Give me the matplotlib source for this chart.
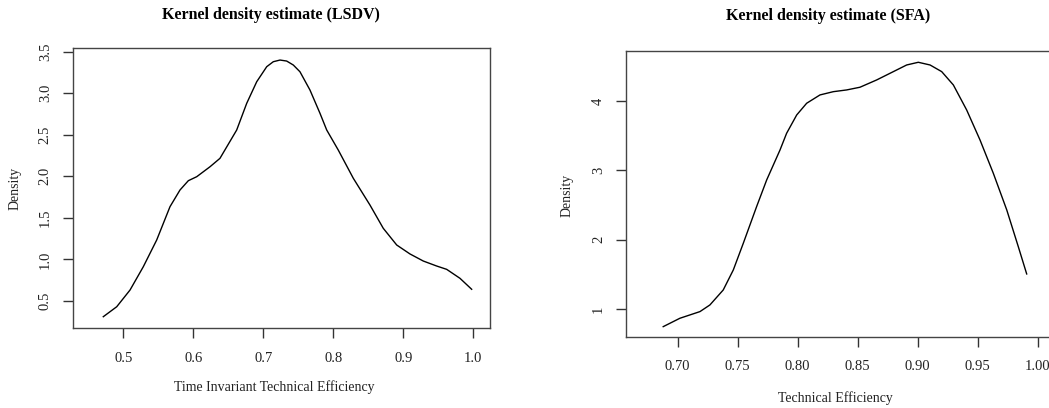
'''Kernel density estimates of technical efficiency (LSDV vs SFA)'''
import numpy as np
import matplotlib.pyplot as plt

plt.rcParams['font.family'] = ['Liberation Serif', 'DejaVu Serif']

# LSDV density curve
lsdv_x = [0.4714, 0.4906, 0.5096, 0.5286, 0.5477, 0.5667, 0.5810, 0.5929, 0.6049,
          0.6239, 0.6381, 0.6620, 0.6763, 0.6906, 0.7049, 0.7143, 0.7239, 0.7334,
          0.7429, 0.7524, 0.7667, 0.7810, 0.7906, 0.8071, 0.8286, 0.8524, 0.8714,
          0.8906, 0.9096, 0.9286, 0.9477, 0.9620, 0.9810, 0.9977]
lsdv_y = [0.311, 0.431, 0.632, 0.913, 1.234, 1.635, 1.836, 1.948, 1.996,
          2.116, 2.217, 2.558, 2.879, 3.139, 3.320, 3.380, 3.400, 3.388,
          3.340, 3.259, 3.039, 2.759, 2.558, 2.317, 1.977, 1.655, 1.375,
          1.174, 1.066, 0.981, 0.921, 0.881, 0.773, 0.641]

# SFA density curve
sfa_x = [0.6880, 0.7019, 0.7186, 0.7269, 0.7380, 0.7464, 0.7547, 0.7658, 0.7742,
         0.7853, 0.7908, 0.7992, 0.8075, 0.8186, 0.8297, 0.8408, 0.8519, 0.8658,
         0.8797, 0.8908, 0.9005, 0.9103, 0.9200, 0.9297, 0.9408, 0.9519, 0.9630,
         0.9742, 0.9838, 0.9908]
sfa_y = [0.745, 0.866, 0.962, 1.058, 1.274, 1.563, 1.947, 2.476, 2.861,
         3.293, 3.534, 3.798, 3.967, 4.087, 4.134, 4.159, 4.198, 4.303,
         4.423, 4.519, 4.558, 4.519, 4.423, 4.231, 3.870, 3.438, 2.957,
         2.428, 1.899, 1.505]

lsdv_xticks = [0.5, 0.6, 0.7, 0.8, 0.9, 1.0]
lsdv_yticks = [0.5, 1.0, 1.5, 2.0, 2.5, 3.0, 3.5]
sfa_xticks = [0.70, 0.75, 0.80, 0.85, 0.90, 0.95, 1.00]
sfa_yticks = [1, 2, 3, 4]

W, H = 1049, 408
fig = plt.figure(figsize=(W / 100, H / 100), dpi=100)


def px_axes(x0, x1, y0, y1):
    return fig.add_axes([x0 / W, 1 - y1 / H, (x1 - x0) / W, (y1 - y0) / H])


def style(ax):
    for s in ax.spines.values():
        s.set_color('#444444')
        s.set_linewidth(1.0)
    ax.tick_params(direction='out', length=7, width=1.0, color='#333333',
                   labelsize=10.5, labelcolor='#222222')
    ax.tick_params(axis='x', pad=10)
    ax.tick_params(axis='y', labelrotation=90, pad=8)
    for lab in ax.get_yticklabels():
        lab.set_va('center')


ax1 = px_axes(72.7, 490, 48, 328)
ax1.plot(lsdv_x, lsdv_y, color='black', lw=1.0)
ax1.set_xlim(0.4277, 1.0239)
ax1.set_ylim(0.175, 3.545)
ax1.set_xticks(lsdv_xticks)
ax1.set_xticklabels([f'{v:.1f}' for v in lsdv_xticks])
ax1.set_yticks(lsdv_yticks)
ax1.set_yticklabels([f'{v:.1f}' for v in lsdv_yticks])
style(ax1)

ax2 = px_axes(626, 1049.5, 50.7, 336.7)
ax2.plot(sfa_x, sfa_y, color='black', lw=1.0)
ax2.set_xlim(0.657, 1.0098)
ax2.set_ylim(0.60, 4.725)
ax2.set_xticks(sfa_xticks)
ax2.set_xticklabels([f'{v:.2f}' for v in sfa_xticks])
ax2.set_yticks(sfa_yticks)
ax2.set_yticklabels([str(v) for v in sfa_yticks])
style(ax2)

# titles and axis labels
fig.text(271 / W, 1 - 15 / H, 'Kernel density estimate (LSDV)', ha='center', va='center',
         fontsize=11.5, fontweight='bold')
fig.text(828 / W, 1 - 16 / H, 'Kernel density estimate (SFA)', ha='center', va='center',
         fontsize=11.5, fontweight='bold')
fig.text(274 / W, 1 - 387 / H, 'Time Invariant Technical Efficiency', ha='center', va='center',
         fontsize=10, color='#222222')
fig.text(835 / W, 1 - 398 / H, 'Technical Efficiency', ha='center', va='center',
         fontsize=10, color='#222222')
fig.text(15 / W, 1 - 188 / H, 'Density', ha='center', va='center', rotation=90,
         fontsize=10, color='#222222')
fig.text(567 / W, 1 - 195 / H, 'Density', ha='center', va='center', rotation=90,
         fontsize=10, color='#222222')

fig.savefig('out.png', dpi=100)
